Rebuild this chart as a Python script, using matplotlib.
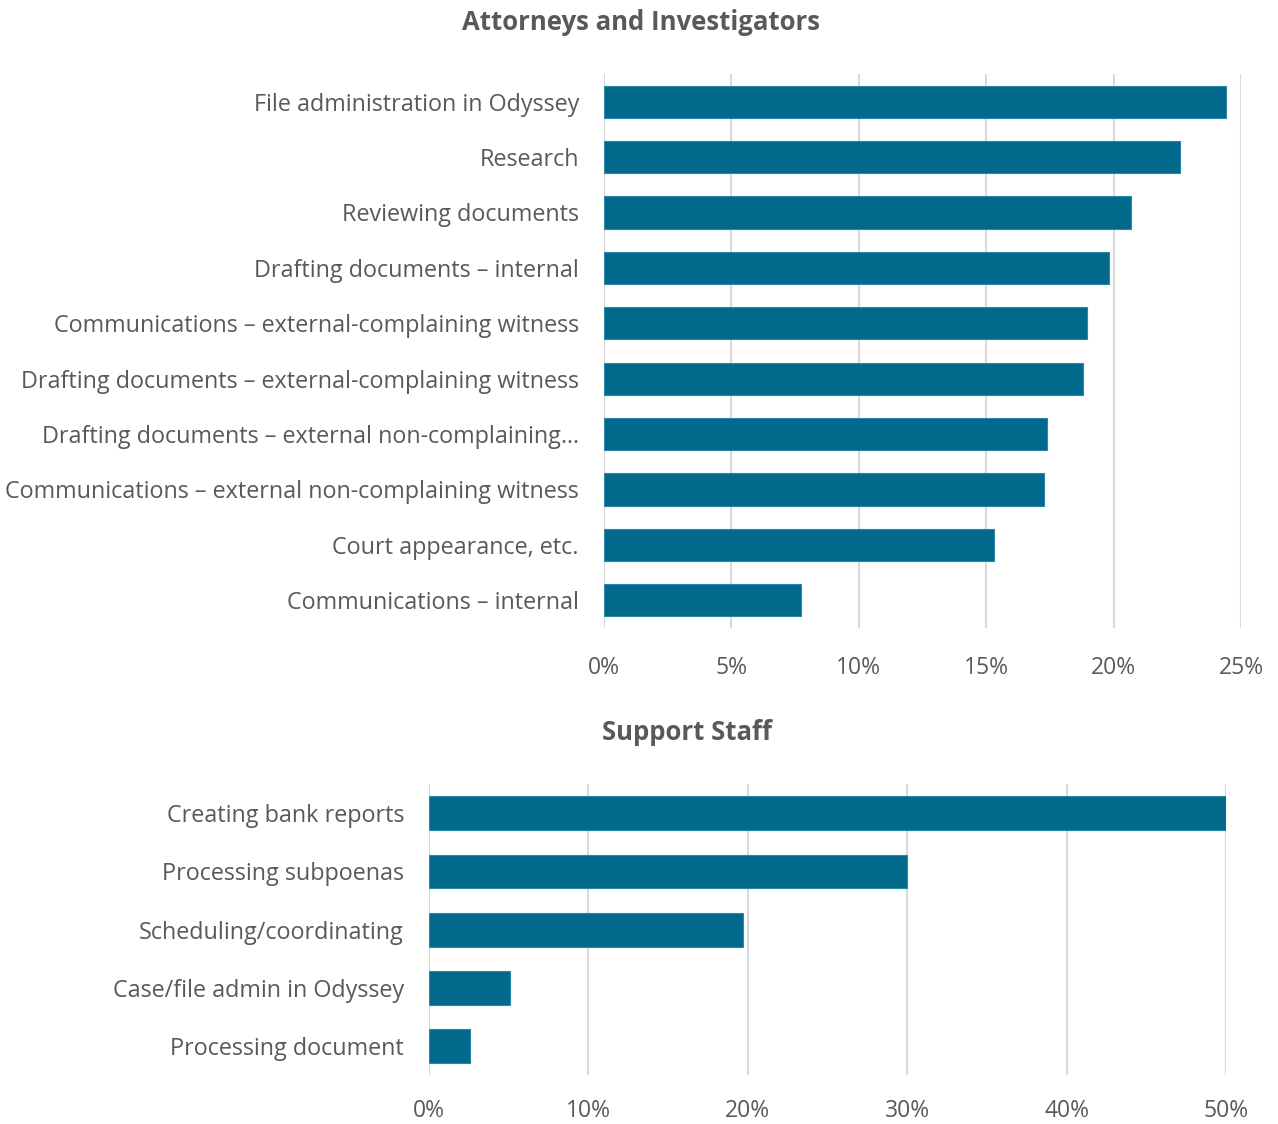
import matplotlib
matplotlib.use("Agg")
import matplotlib.pyplot as plt
from matplotlib.ticker import FuncFormatter, MultipleLocator

plt.rcParams['font.family'] = ['Open Sans', 'DejaVu Sans']

# time share by task, attorneys/investigators
atty_tasks = [
    "File administration in Odyssey",
    "Research",
    "Reviewing documents",
    "Drafting documents \u2013 internal",
    "Communications \u2013 external-complaining witness",
    "Drafting documents \u2013 external-complaining witness",
    "Drafting documents \u2013 external non-complaining\u2026",
    "Communications \u2013 external non-complaining witness",
    "Court appearance, etc.",
    "Communications \u2013 internal",
]
atty_share = [24.4, 22.6, 20.7, 19.8, 18.95, 18.8, 17.4, 17.25, 15.3, 7.75]

# time share by task, support staff
staff_tasks = [
    "Creating bank reports",
    "Processing subpoenas",
    "Scheduling/coordinating",
    "Case/file admin in Odyssey",
    "Processing document",
]
staff_share = [50.0, 30.0, 19.7, 5.1, 2.55]

BAR = "#00698c"
TXT = "#595959"
GRID = "#d9d9d9"

fig = plt.figure(figsize=(12.78, 11.24), dpi=100)
ax1 = fig.add_axes([0.4726, 0.4413, 0.4985, 0.4929])
ax2 = fig.add_axes([0.3357, 0.0432, 0.6236, 0.2593])


def style(ax, tasks, vals, xmax, step, xpad, title, title_x, title_y):
    y = range(len(tasks))
    ax.barh(y, vals, height=0.58, color=BAR, edgecolor="#2b86a8", linewidth=0.8, zorder=3)
    ax.set_yticks(list(y))
    ax.set_yticklabels(tasks)
    ax.set_ylim(len(tasks) - 0.5, -0.5)
    ax.set_xlim(0, xmax)
    ax.xaxis.set_major_locator(MultipleLocator(step))
    ax.xaxis.set_major_formatter(FuncFormatter(lambda v, p: "%d%%" % round(v)))
    ax.grid(axis="x", color=GRID, linewidth=1.5, zorder=0)
    for s in ax.spines.values():
        s.set_visible(False)
    ax.tick_params(axis="both", length=0, colors=TXT)
    ax.tick_params(axis="y", pad=18, labelsize=16.8)
    ax.tick_params(axis="x", pad=xpad, labelsize=16.5)
    ax.set_axisbelow(True)
    fig.text(title_x, title_y, title, ha="center", va="center",
             fontsize=18.5, fontweight="bold", color=TXT)


style(ax1, atty_tasks, atty_share, 25, 5, 20, "Attorneys and Investigators",
      641 / 1278, 1 - 22 / 1124)
style(ax2, staff_tasks, staff_share, 50, 10, 17, "Support Staff",
      687 / 1278, 1 - 732 / 1124)

fig.savefig("out.png", dpi=100, facecolor="white")
